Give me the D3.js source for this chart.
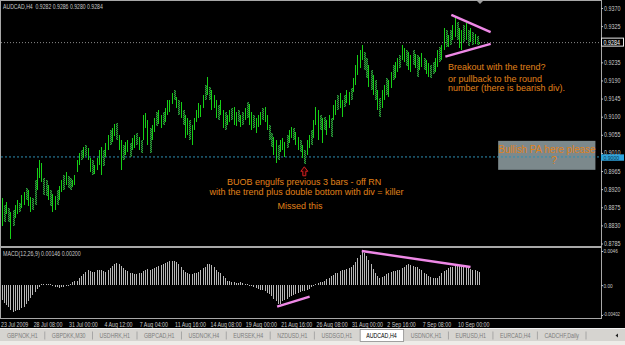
<!DOCTYPE html>
<html>
<head>
<meta charset="utf-8">
<script src="https://cdn.jsdelivr.net/npm/d3@7"></script>
<style>
  body { margin: 0; background: #000; overflow: hidden; }
  svg { display: block; }
  text { font-family: "Liberation Sans", Arial, sans-serif; }
</style>
</head>
<body>
<div id="chart"></div>
<script>
// AUDCAD H4 bars (one entry per 4h bar)
var highs = [
  0.8899,0.8881,0.8889,0.8874,0.8864,0.8869,0.8881,0.8894,0.8886,0.8906,
  0.8914,0.8923,0.8918,0.8901,0.8899,0.8943,0.8973,0.8993,0.8985,0.8948,
  0.8943,0.8931,0.8918,0.8909,0.8904,0.8918,0.8928,0.8943,0.8956,0.8963,
  0.8953,0.8948,0.8943,0.8956,0.8993,0.9010,0.9018,0.9025,0.9030,0.9023,
  0.8998,0.8993,0.8980,0.8998,0.9018,0.9025,0.9018,0.9035,0.9055,0.9067,
  0.9072,0.9082,0.9085,0.9055,0.9042,0.9030,0.9037,0.9042,0.9035,0.9047,
  0.9055,0.9060,0.9050,0.9042,0.9105,0.9110,0.9092,0.9072,0.9080,0.9097,
  0.9112,0.9117,0.9105,0.9112,0.9122,0.9142,0.9142,0.9159,0.9167,0.9149,
  0.9142,0.9137,0.9117,0.9105,0.9097,0.9092,0.9080,0.9097,0.9117,0.9134,
  0.9129,0.9154,0.9179,0.9199,0.9174,0.9167,0.9154,0.9142,0.9129,0.9142,
  0.9117,0.9112,0.9105,0.9117,0.9122,0.9124,0.9112,0.9117,0.9105,0.9112,
  0.9122,0.9137,0.9132,0.9112,0.9105,0.9097,0.9105,0.9112,0.9122,0.9124,
  0.9105,0.9080,0.9060,0.9050,0.9042,0.9030,0.9042,0.9047,0.9037,0.9055,
  0.9067,0.9075,0.9072,0.9062,0.9050,0.9042,0.9030,0.9018,0.9042,0.9055,
  0.9067,0.9092,0.9124,0.9117,0.9105,0.9097,0.9100,0.9092,0.9105,0.9097,
  0.9129,0.9142,0.9154,0.9159,0.9142,0.9154,0.9167,0.9162,0.9172,0.9196,
  0.9229,0.9253,0.9266,0.9278,0.9261,0.9246,0.9229,0.9216,0.9204,0.9191,
  0.9167,0.9147,0.9167,0.9179,0.9196,0.9191,0.9211,0.9229,0.9236,0.9246,
  0.9253,0.9278,0.9271,0.9266,0.9261,0.9253,0.9266,0.9256,0.9253,0.9248,
  0.9258,0.9246,0.9241,0.9234,0.9229,0.9236,0.9246,0.9266,0.9273,0.9278,
  0.9320,0.9315,0.9303,0.9315,0.9328,0.9348,0.9335,0.9320,0.9315,0.9328,
  0.9333,0.9315,0.9320,0.9310,0.9305,0.9300,0.9286
];
var lows = [
  0.8829,0.8839,0.8859,0.8839,0.8795,0.8829,0.8849,0.8859,0.8864,0.8874,
  0.8881,0.8894,0.8879,0.8864,0.8869,0.8881,0.8918,0.8948,0.8938,0.8906,
  0.8904,0.8894,0.8879,0.8864,0.8869,0.8881,0.8894,0.8914,0.8918,0.8931,
  0.8923,0.8918,0.8926,0.8931,0.8963,0.8980,0.8993,0.8998,0.9003,0.8993,
  0.8963,0.8956,0.8958,0.8968,0.8980,0.8956,0.8978,0.9000,0.9018,0.9030,
  0.9037,0.9052,0.9042,0.9018,0.8968,0.8993,0.9005,0.9013,0.9000,0.9018,
  0.9023,0.9030,0.9018,0.9010,0.9042,0.9072,0.9030,0.9010,0.9042,0.9062,
  0.9077,0.9082,0.9072,0.9080,0.9087,0.9105,0.9112,0.9132,0.9142,0.9122,
  0.9105,0.9097,0.9080,0.9047,0.9055,0.9042,0.9030,0.9067,0.9087,0.9097,
  0.9100,0.9122,0.9142,0.9154,0.9142,0.9117,0.9122,0.9097,0.9092,0.9105,
  0.9072,0.9067,0.9080,0.9087,0.9092,0.9080,0.9077,0.9087,0.9075,0.9080,
  0.9092,0.9097,0.9080,0.9067,0.9072,0.9060,0.9075,0.9080,0.9092,0.9087,
  0.9067,0.9042,0.9025,0.9005,0.8985,0.8993,0.9013,0.9018,0.9000,0.9023,
  0.9035,0.9047,0.9042,0.9030,0.9018,0.9013,0.8998,0.8983,0.9005,0.9023,
  0.9030,0.9047,0.9080,0.9042,0.9067,0.9035,0.9067,0.9055,0.9072,0.9050,
  0.9092,0.9105,0.9117,0.9122,0.9100,0.9124,0.9134,0.9129,0.9142,0.9162,
  0.9179,0.9204,0.9221,0.9241,0.9216,0.9196,0.9174,0.9167,0.9154,0.9142,
  0.9117,0.9100,0.9122,0.9142,0.9154,0.9149,0.9172,0.9191,0.9196,0.9211,
  0.9221,0.9241,0.9236,0.9226,0.9216,0.9211,0.9229,0.9221,0.9199,0.9216,
  0.9224,0.9216,0.9206,0.9199,0.9196,0.9206,0.9211,0.9224,0.9236,0.9241,
  0.9266,0.9273,0.9273,0.9278,0.9291,0.9298,0.9291,0.9271,0.9266,0.9286,
  0.9291,0.9276,0.9286,0.9278,0.9281,0.9278,0.9280
];
// 1 = bull bar (bright), 0 = bear bar (dark)
var dirs = [
  1,0,1,0,1,0,1,1,0,1, 1,0,1,1,0,0,1,1,1,0, 0,1,0,1,1,0,1,1,0,1,
  0,0,1,1,1,1,0,1,0,1, 1,0,1,1,1,1,0,1,1,0, 1,1,0,1,1,0,1,1,0,1,
  1,0,1,0,1,1,1,0,1,1, 0,1,1,0,1,1,1,1,0,1, 0,1,0,1,1,0,1,1,1,1,
  1,1,0,1,0,1,1,1,0,1, 1,0,1,1,0,1,1,0,1,0, 1,0,1,1,0,1,1,1,0,1,
  1,0,0,1,1,0,1,1,1,0, 1,1,0,1,1,0,1,0,1,1, 0,1,1,1,0,1,0,1,1,0,
  1,1,0,1,1,0,1,1,0,1, 1,1,1,1,0,0,1,0,1,0, 1,0,1,1,0,1,1,0,1,1,
  0,1,1,0,1,1,0,1,0,1, 1,0,1,1,0,0,1,1,0,1, 1,0,1,0,1,1,0,1,1,0,
  1,0,1,0,1,0,1
];
// MACD(12,26,9) histogram
var macd = [
  -0.0020,-0.0024,-0.0027,-0.0029,-0.0033,-0.0036,-0.0035,-0.0034,-0.0033,-0.0031,
  -0.0029,-0.0025,-0.0021,-0.0017,-0.0013,-0.0009,-0.0005,-0.0002,0.0001,0.0002,
  0.0002,0.0001,0.0001,-0.0001,-0.0002,-0.0003,-0.0004,-0.0003,-0.0002,-0.0001,
  0.0000,0.0002,0.0004,0.0005,0.0006,0.0009,0.0012,0.0015,0.0018,0.0020,
  0.0019,0.0018,0.0018,0.0020,0.0021,0.0020,0.0019,0.0018,0.0020,0.0023,
  0.0026,0.0028,0.0030,0.0029,0.0026,0.0023,0.0021,0.0019,0.0017,0.0016,
  0.0015,0.0015,0.0016,0.0017,0.0019,0.0021,0.0022,0.0021,0.0022,0.0023,
  0.0025,0.0026,0.0027,0.0029,0.0030,0.0031,0.0032,0.0033,0.0033,0.0031,
  0.0028,0.0025,0.0021,0.0018,0.0016,0.0015,0.0015,0.0016,0.0017,0.0018,
  0.0020,0.0023,0.0025,0.0028,0.0029,0.0027,0.0024,0.0021,0.0018,0.0016,
  0.0012,0.0009,0.0006,0.0005,0.0004,0.0004,0.0003,0.0003,0.0004,0.0003,
  0.0002,0.0001,0.0000,-0.0001,-0.0002,-0.0004,-0.0005,-0.0006,-0.0007,-0.0008,
  -0.0010,-0.0012,-0.0015,-0.0018,-0.0022,-0.0026,-0.0025,-0.0022,-0.0020,-0.0018,
  -0.0016,-0.0014,-0.0013,-0.0012,-0.0011,-0.0009,-0.0008,-0.0008,-0.0007,-0.0005,
  -0.0003,-0.0001,0.0002,0.0003,0.0004,0.0004,0.0006,0.0008,0.0010,0.0012,
  0.0014,0.0016,0.0017,0.0019,0.0020,0.0021,0.0022,0.0023,0.0024,0.0027,
  0.0031,0.0036,0.0041,0.0044,0.0043,0.0039,0.0034,0.0028,0.0022,0.0017,
  0.0012,0.0010,0.0011,0.0013,0.0015,0.0017,0.0018,0.0019,0.0019,0.0020,
  0.0021,0.0023,0.0025,0.0027,0.0028,0.0027,0.0026,0.0025,0.0024,0.0022,
  0.0020,0.0017,0.0015,0.0013,0.0011,0.0010,0.0009,0.0010,0.0013,0.0016,
  0.0019,0.0021,0.0023,0.0024,0.0025,0.0026,0.0027,0.0027,0.0026,0.0026,
  0.0025,0.0023,0.0022,0.0021,0.0020,0.0019,0.0018
];

// 0.9280 sits under the bid label, so it is not listed
var priceTicks = [0.9370,0.9325,0.9235,0.9190,0.9145,0.9100,0.9055,0.9010,0.8965,0.8920,0.8875,0.8830,0.8785];
var macdTicks = [0.0046, 0, -0.00402];
var macdTickLabels = ["0.0046", "0.00", "-0.00402"];
var dateLabels = ["23 Jul 2009","28 Jul 08:00","31 Jul 00:00","4 Aug 12:00","7 Aug 04:00","11 Aug 16:00",
  "14 Aug 08:00","19 Aug 00:00","21 Aug 16:00","26 Aug 08:00","31 Aug 00:00","2 Sep 16:00","7 Sep 08:00","10 Sep 00:00"];
var dateBars = [0,15,31,47,63,79,95,111,127,143,159,175,191,207];
var tabs = ["GBPNOK,H1","GBPDKK,M30","USDHRK,H1","GBPCAD,H1","USDNOK,H4","EURSEK,H4","NZDUSD,H1",
  "USDSGD,H1","AUDCAD,H4","USDNOK,H1","EURUSD,H1","EURCAD,H4","CADCHF,Daily"];
var activeTab = "AUDCAD,H4";

var bid = 0.9284;
var roundNumber = 0.9000;
// trend lines drawn on the chart: [bar, value]
var triTop = [[203.5, 0.9353], [221.3, 0.9310]];
var triBottom = [[200.8, 0.9249], [221.3, 0.9281]];
var macdLowLine = [[124.7, -0.0029], [139.4, -0.00154]];
var macdHighLine = [[163, 0.0046], [212.2, 0.00244]];
// text objects: bar, price
var notes = [
  {t: "Breakout with the trend?", bar: 202, p: 0.9216, a: "start"},
  {t: "or pullback to the round", bar: 202, p: 0.9186, a: "start"},
  {t: "number (there is bearish div).", bar: 202, p: 0.9164, a: "start"},
  {t: "BUOB engulfs previous 3 bars - off RN", bar: 136.9, p: 0.8930, a: "middle"},
  {t: "with the trend plus double bottom with div = killer", bar: 138, p: 0.8905, a: "middle"},
  {t: "Missed this", bar: 135.1, p: 0.8870, a: "middle"}
];
var paBox = {bar0: 224.7, bar1: 268.7, p0: 0.9040, p1: 0.8968};

function drawChart() {
    var width = 625, height = 345;

    var svg = d3.select("#chart").append("svg")
        .attr("width", width)
        .attr("height", height);

    svg.append("rect").attr("width", width).attr("height", height).attr("fill", "#000");

    // scales: bar index -> x, price -> y, macd -> y
    var x = d3.scaleLinear().domain([0, 271]).range([1.5, 600.5]);
    var y = d3.scaleLinear().domain([0.8785, 0.9370]).range([243.5, 8]);
    var ym = d3.scaleLinear().domain([-0.00402, 0.0046]).range([315, 251]);

    // squeeze small MT4 labels a bit, their font is narrow
    function narrow(sel, k) {
        sel.each(function() {
            var w = this.getComputedTextLength();
            d3.select(this).attr("textLength", w * k).attr("lengthAdjust", "spacingAndGlyphs");
        });
    }

    var defs = svg.append("defs");
    var pat = defs.append("pattern").attr("id", "dn")
        .attr("width", 2).attr("height", 2).attr("patternUnits", "userSpaceOnUse");
    pat.append("rect").attr("width", 2).attr("height", 2).attr("fill", "#0d3a22");
    pat.append("rect").attr("width", 1).attr("height", 1).attr("fill", "#30a530");
    pat.append("rect").attr("x", 1).attr("y", 1).attr("width", 1).attr("height", 1).attr("fill", "#30a530");

    // rectangle object (drawn in background)
    svg.append("rect")
        .attr("x", x(paBox.bar0)).attr("y", y(paBox.p0))
        .attr("width", x(paBox.bar1) - x(paBox.bar0))
        .attr("height", y(paBox.p1) - y(paBox.p0))
        .attr("fill", "#7c898c");

    // bid line and round number line
    svg.append("line")
        .attr("x1", 1).attr("x2", 601).attr("y1", y(bid)).attr("y2", y(bid))
        .attr("stroke", "#8a8a8a").attr("stroke-dasharray", "1,2");
    svg.append("line")
        .attr("x1", 1).attr("x2", 601).attr("y1", y(roundNumber)).attr("y2", y(roundNumber))
        .attr("stroke", "#2f8fb5").attr("stroke-dasharray", "2,2");

    // price bars
    svg.append("g").attr("shape-rendering", "crispEdges")
        .selectAll("rect")
        .data(highs)
        .enter().append("rect")
        .attr("x", function(d, i) { return dirs[i] ? Math.round(x(i)) : Math.round(x(i)) - 0.5; })
        .attr("y", function(d) { return y(d); })
        .attr("width", function(d, i) { return dirs[i] ? 1 : 2; })
        .attr("height", function(d, i) { return Math.max(1, y(lows[i]) - y(d)); })
        .attr("fill", function(d, i) { return dirs[i] ? "#16d016" : "url(#dn)"; });

    // macd histogram
    svg.append("g").attr("shape-rendering", "crispEdges")
        .selectAll("rect")
        .data(macd)
        .enter().append("rect")
        .attr("x", function(d, i) { return Math.round(x(i)); })
        .attr("y", function(d) { return Math.min(ym(d), ym(0)); })
        .attr("width", 1)
        .attr("height", function(d) { return Math.max(0.6, Math.abs(ym(d) - ym(0))); })
        .attr("fill", "#b8b8b8");

    // trend lines
    var line = d3.line().x(function(d) { return x(d[0]); }).y(function(d) { return y(d[1]); });
    var lineM = d3.line().x(function(d) { return x(d[0]); }).y(function(d) { return ym(d[1]); });
    [triTop, triBottom].forEach(function(l) {
        svg.append("path").attr("d", line(l)).attr("stroke", "#ee88e6").attr("stroke-width", 2.4).attr("fill", "none");
    });
    [macdLowLine, macdHighLine].forEach(function(l) {
        svg.append("path").attr("d", lineM(l)).attr("stroke", "#ee88e6").attr("stroke-width", 2.4).attr("fill", "none");
    });

    // up arrow under the double bottom bar
    var ax = x(137), ay = y(lows[137]) + 3;
    svg.append("path")
        .attr("d", "M0,0 L-3.5,4.5 L-1.5,4.5 L-1.5,9 L1.5,9 L1.5,4.5 L3.5,4.5 Z")
        .attr("transform", "translate(" + ax + "," + ay + ")")
        .attr("fill", "#2a0000").attr("stroke", "#d42020").attr("stroke-width", 1);

    // text notes
    svg.append("g").selectAll("text")
        .data(notes)
        .enter().append("text")
        .attr("x", function(d) { return x(d.bar); })
        .attr("y", function(d) { return y(d.p); })
        .attr("text-anchor", function(d) { return d.a; })
        .attr("font-size", 9)
        .attr("fill", "#e0821a")
        .text(function(d) { return d.t; });

    var pa = svg.append("text")
        .attr("x", x(paBox.bar0)).attr("y", y(0.9010))
        .attr("font-size", 10).attr("fill", "#e0821a")
        .text("Bullish PA here please");
    pa.attr("textLength", x(paBox.bar1) - x(paBox.bar0)).attr("lengthAdjust", "spacingAndGlyphs");
    svg.append("text")
        .attr("x", x(250)).attr("y", y(0.8983)).attr("text-anchor", "middle")
        .attr("font-size", 10).attr("fill", "#e0821a")
        .text("?");

    // frames
    var frame = svg.append("g").attr("fill", "none").attr("stroke", "#a8a8a8").attr("shape-rendering", "crispEdges");
    frame.append("rect").attr("x", 0.5).attr("y", 0.5).attr("width", 600.5).attr("height", 246);
    frame.append("rect").attr("x", 0.5).attr("y", 247.5).attr("width", 600.5).attr("height", 70.5);

    // chart shift marker
    svg.append("path").attr("d", "M477,1 L483,1 L480,4 Z").attr("fill", "#9a9a9a");

    // price axis
    var axisP = svg.append("g")
        .attr("transform", "translate(601,0)")
        .call(d3.axisRight(y).tickValues(priceTicks).tickSize(2).tickFormat(d3.format(".4f")));
    axisP.select(".domain").remove();
    axisP.selectAll("line").attr("stroke", "#c0c0c0");
    axisP.selectAll("text").attr("x", 3).attr("fill", "#c8c8c8")
        .attr("font-size", 6.3).attr("font-family", "Liberation Sans, Arial");
    narrow(axisP.selectAll("text"), 0.85);

    // macd axis
    var axisM = svg.append("g")
        .attr("transform", "translate(601,0)")
        .call(d3.axisRight(ym).tickValues(macdTicks).tickSize(2)
            .tickFormat(function(d, i) { return macdTickLabels[i]; }));
    axisM.select(".domain").remove();
    axisM.selectAll("line").attr("stroke", "#c0c0c0");
    axisM.selectAll("text").attr("x", 2.5).attr("fill", "#c8c8c8")
        .attr("font-size", 6).attr("font-family", "Liberation Sans, Arial");
    narrow(axisM.selectAll("text").filter(function(d) { return d >= 0; }), 0.78);
    // the long negative label is squeezed with a transform so its box stays inside the window
    axisM.selectAll("text").filter(function(d) { return d < 0; })
        .attr("x", 0).attr("font-size", 5.8)
        .attr("transform", "translate(2,-1) scale(0.74,1)");

    // current price label and round number label
    svg.append("rect").attr("x", 601.5).attr("y", y(bid) - 4.5).attr("width", 22).attr("height", 8)
        .attr("fill", "#000").attr("stroke", "#e8e8e8").attr("stroke-width", 1);
    var bt = svg.append("text").attr("x", 603.5).attr("y", y(bid) + 2.2)
        .attr("font-size", 6.3).attr("fill", "#ffffff").text(d3.format(".4f")(bid));
    narrow(bt, 0.85);
    svg.append("rect").attr("x", 601).attr("y", y(roundNumber) - 2.6).attr("width", 23).attr("height", 6.4)
        .attr("fill", "#2ea3dc");
    var rt = svg.append("text").attr("x", 603.5).attr("y", y(roundNumber) + 3)
        .attr("font-size", 5.8).attr("fill", "#0d3550").text(d3.format(".4f")(roundNumber));
    narrow(rt, 0.88);

    // titles
    var t1 = svg.append("text").attr("x", 3).attr("y", 9).attr("font-size", 6.6).attr("fill", "#c8c8c8")
        .text("AUDCAD,H4 \u00a00.9282 0.9286 0.9280 0.9284");
    narrow(t1, 0.78);
    var t2 = svg.append("text").attr("x", 3).attr("y", 256).attr("font-size", 6.6).attr("fill", "#c8c8c8")
        .text("MACD(12,26,9) 0.00146 0.00200");
    narrow(t2, 0.8);

    // time labels
    var dl = svg.append("g").selectAll("text")
        .data(dateLabels)
        .enter().append("text")
        .attr("x", function(d, i) { return i === 0 ? 1 : x(dateBars[i]) - 1; })
        .attr("y", 326.5)
        .attr("font-size", 6.6)
        .attr("fill", "#c8c8c8")
        .text(function(d) { return d; });
    narrow(dl, 0.8);

    // tab bar
    svg.append("rect").attr("x", 0).attr("y", 328).attr("width", width).attr("height", 17).attr("fill", "#d6d4d0");
    svg.append("line").attr("x1", 0).attr("x2", width).attr("y1", 328.5).attr("y2", 328.5).attr("stroke", "#f2f2f2");
    svg.append("rect").attr("x", 0).attr("y", 341).attr("width", width).attr("height", 4).attr("fill", "#eeece8");

    var cx = 7;
    tabs.forEach(function(name, k) {
        var active = name === activeTab;
        var g = svg.append("g");
        var tx = g.append("text").attr("x", cx).attr("y", 337.5).attr("font-size", 6.6)
            .attr("fill", active ? "#000" : "#7c7c7c").text(name);
        narrow(tx, 0.8);
        var w = +tx.attr("textLength");
        if (active) {
            g.insert("rect", "text").attr("x", cx - 6).attr("y", 329.5).attr("width", w + 13).attr("height", 12)
                .attr("fill", "#ffffff").attr("stroke", "#8a8a8a").attr("stroke-width", 0.8);
        }
        cx += w + 7;
        if (!active && tabs[k + 1] !== activeTab) {
            svg.append("line").attr("x1", cx).attr("x2", cx).attr("y1", 331.5).attr("y2", 339.5)
                .attr("stroke", "#9a9a9a").attr("stroke-width", 0.8);
        }
        cx += 7;
    });
    svg.append("path").attr("d", "M618,333.5 L615.5,335.5 L618,337.5 Z").attr("fill", "#222");
}

drawChart();
</script>
</body>
</html>
